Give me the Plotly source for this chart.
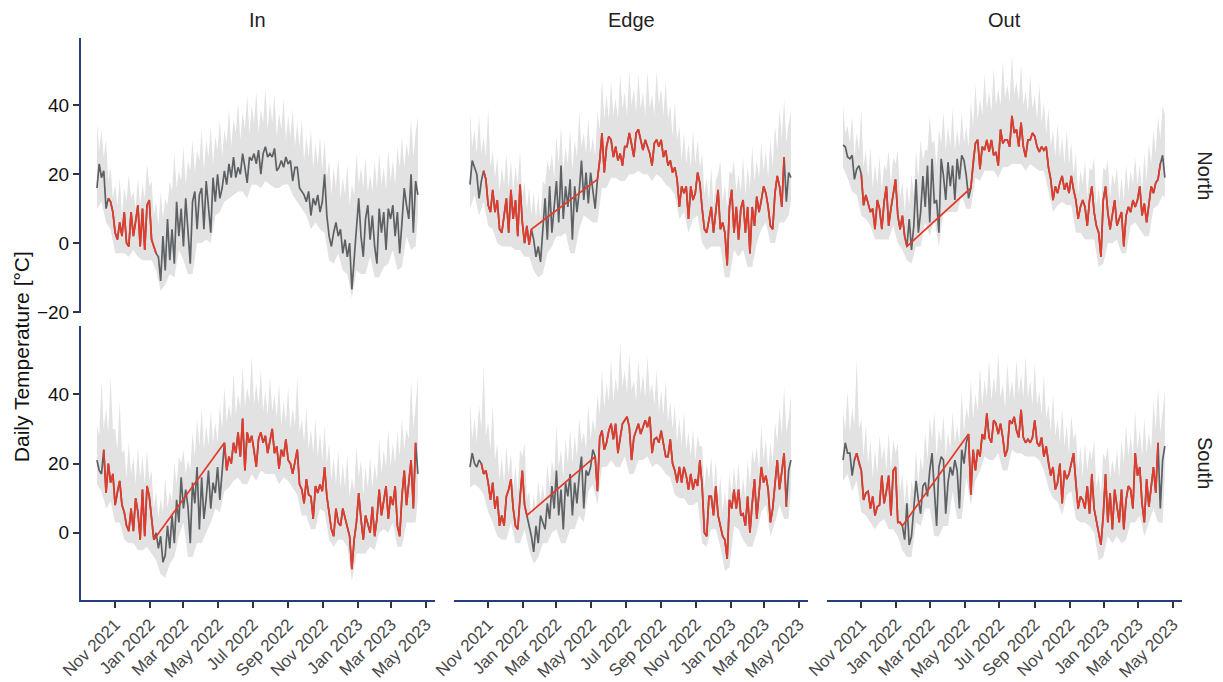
import pandas as pd
import plotly.graph_objects as go

# ---------------- data ----------------
START = "2021-09-30"
mean_dates = pd.date_range(START, periods=142, freq="4D")          # daily-mean samples
lo_dates = list(pd.date_range(START, periods=71, freq="8D")) + [mean_dates[-1]]

columns = ["In", "Edge", "Out"]
rows = ["North", "South"]
y_ticks = [-20, 0, 20, 40]

in_north_mean = [16, 23, 19, 21, 10, 13, 12, 9, 3, 1,
 6, 2, 9, 0, -1, 9, 2, 6, 11, -1,
 10, -2, 11, 12.5, 1, -1, -3, -4, -11, 2,
 -8, 7, -5, 4, -6, 12, 2, 10, -1, 13,
 3, -6, 12, 15, 4, 14, 16, 4, 18, 10,
 3, 19, 12, 20, 13, 16, 21, 17, 23, 19,
 25, 19, 22, 20, 26, 22, 17.5, 25, 24, 26,
 23, 27, 20, 26, 28, 25, 26, 25, 27.5, 21,
 22, 24, 22, 25, 23, 24, 18, 22, 22, 16,
 15, 14, 12, 15, 8, 13, 11, 14, 9, 12,
 20, 8, 2, -1, 3, 6, 2, 4, -3, 1,
 -4, 0, -13.5, -4, 5, 13, 2, -4, 7, 11,
 1, 8, -1, -6, 10, 3, 9, -2, 10, 7,
 11, 2, 9, -3, 6, 16, 11, 7, 20, 3,
 18, 14]
in_north_hi = [35, 27, 33, 25, 30, 18, 22, 13, 17, 11, 19, 8, 16, 12, 20, 13, 15, 10, 19, 11,
 17, 13, 23, 16.5, 18, 8, 12, 5, 15, 7, 13, 11, 18, 15, 26, 16, 21, 18, 28, 17,
 24, 21, 30, 20.5, 27, 24, 33, 21, 30, 25, 34, 23, 31, 27, 36, 25, 33, 29, 39, 28,
 36, 32, 41, 30, 38, 33, 43, 32, 40, 35, 44, 32, 39, 35, 45, 33, 41, 35, 43, 31,
 38, 33, 42, 30, 37, 31, 39, 28, 35, 28, 36, 24, 31, 25, 33, 22, 29, 23, 31, 21,
 30, 19, 24, 14, 22, 16, 25, 13, 19, 14, 23, 11, 17, 14, 26, 17, 22, 16, 25, 15,
 20, 15, 24, 16, 26, 17, 22, 15.5, 27, 18, 24, 17, 28, 22, 31, 22, 29, 25, 36, 25,
 32, 37]
in_north_lo = [10, 12, 6, 4, -3, -3, -3, -4, -2, -4,
 -5, -5, -5, -8, -14, -12, -9, -10, -2, -5,
 -9, -9, 0, 0, 1, 0, 8, 9, 12, 13,
 14, 15, 15, 13, 17, 17, 16, 18, 17, 16,
 16, 17, 17, 14, 12, 10, 8, 4, 6, 4,
 3, -5, -6, -3, -8, -9, -16, -8, -9, -9,
 -4, -10, -10, -7, -6, -2, -8, -7, 2, -2,
 -1, 8]
in_north_red = [("2021-10-20", "2022-01-12")]

in_south_mean = [21, 18, 17, 24, 11.5, 20, 14.5, 17, 8, 12,
 15, 8, 6, 2, 0.5, 7, 0.5, 10, 6, -2,
 12.5, -1, 13.5, 10.5, 3, -2, 0, -4.5, -1, -8.5,
 -6.5, 2, -4.5, 5, -3, 9.5, 3, 16, 7, 12.5,
 7.5, -3, 14.5, 8.5, 19, 1, 16, 4, 10, 18,
 7, 14.5, 11.5, 19, 9.5, 19, 26, 18, 22, 20,
 26, 23, 29, 22, 33, 18, 29, 26, 28, 24,
 19, 27, 29, 26, 28, 23, 27, 30, 23, 25,
 18.5, 24, 22, 27, 21, 20, 17, 21, 24, 14,
 12.5, 8.5, 15.5, 11, 10.5, 4, 13.5, 11.5, 14, 12,
 19, 10.5, 5, 1, -1, 7, 3, 2, 7, 4,
 2, -1, -10.5, -2, 3, 11.5, 4, -2, 5, 2,
 0, 7.5, -1, 4, 12.5, 5, 9, 13.5, 4, 10.5,
 8, 13.5, 2, -1, 10.5, 18, 8, 15.5, 21, 7,
 26, 17]
in_south_hi = [31, 28, 44, 30, 36, 29, 45, 30, 30, 24, 38, 23, 24, 16, 26, 17, 22, 14, 25, 16,
 22, 14, 24, 15, 18, 7, 12, 4, 10, 6, 16, 7, 12, 9, 20, 14, 22, 20, 24, 17,
 21, 18, 29, 22, 33, 25, 36, 24, 31, 25, 35, 26, 32, 26, 37, 30, 42, 32, 37, 33,
 46, 34, 40, 36, 48, 36, 42, 38, 51, 37, 43, 37, 47, 35, 41, 34, 45, 35, 40, 33,
 43, 31, 38, 32, 42, 30, 36, 31, 45, 29, 33, 26, 36, 24, 30, 23, 33, 22, 29, 21,
 31, 20, 26, 15, 22, 14, 24, 13, 20, 13, 23, 10, 16, 12, 25, 16, 21, 11, 19, 13,
 22, 13, 20, 15, 27, 17, 24, 19, 30, 19, 26, 20, 29, 22, 33, 24, 30, 27, 44, 30,
 37, 45]
in_south_lo = [14, 12, 7, 9, 3, 3, -2, -3, -3, -5,
 -5, -4, -6, -8, -12, -13, -9, -7, -1, 3,
 -7, -7, -3, -3, 0, 3, 7, 6, 12, 13,
 15, 16, 14, 14, 17, 15, 18, 17, 17, 17,
 14, 16, 15, 13, 11, 5, 5, 1, 1, 7,
 6, -2, -4, -2, -2, -4, -14, -6, -6, -6,
 -4, -5, 0, 1, 0, 3, -4, -4, 3, 3,
 3, 10]
in_south_red = [("2021-10-12", "2022-01-08"), ("2022-05-12", "2023-04-13")]

edge_north_mean = [17, 24, 22, 20, 13, 18, 21, 18.5, 11, 9,
 15.5, 9, 12.5, 4, 3, 8, 13, 3, 15.5, 7,
 12.5, 2, 17, 6, 0, 5, -0.5, 4, 1, -4,
 -1, -5.5, 3, 13, 1, 16.5, 3, 11.5, 18, 6,
 22.5, 7, 16.5, 10.5, 18.5, 1, 16.5, 9, 15, 24,
 12.5, 20.5, 11.5, 20.5, 15.5, 10, 18.5, 24, 32, 20.5,
 28, 31, 30, 25, 28, 24, 26, 22.5, 28, 28,
 32, 29, 25, 32, 33, 30, 27, 30, 28, 26,
 22.5, 29, 30, 28, 30, 25, 27, 22.5, 24, 20.5,
 22, 18.5, 10.5, 16.5, 14.5, 16.5, 7, 16.5, 12.5, 14.5,
 20.5, 17.5, 10, 4, 3, 7, 10.5, 3, 9, 15.5,
 4, 6, 3, -6.5, 10.5, 15.5, 3, 10.5, 1, 10,
 12.5, 3, 10.5, -3, 10.5, 5, 13.5, 9, 12.5, 16.5,
 14.5, 10.5, 5, 4, 14.5, 19.5, 16.5, 10.5, 25, 12,
 20.5, 19]
edge_north_hi = [38, 28, 33, 26, 37, 26, 31, 25, 39, 22, 27, 19, 25, 15, 22, 17, 26, 16, 24, 15,
 22, 17, 27, 13, 18, 10, 16, 8, 15, 7, 14, 7, 18, 17, 24, 21, 26, 19, 31, 23,
 34, 21, 28, 23, 33, 21, 30, 25, 38, 28, 32, 26, 36, 26, 31, 25, 38, 33, 48, 36,
 43, 36, 47, 37, 42, 36, 49, 39, 44, 37, 50, 40, 45, 38, 49, 39, 44, 37, 50, 39,
 43, 37, 50, 40, 45, 37, 47, 36, 40, 31, 41, 30, 34, 24, 32, 23, 29, 22, 33, 23,
 30, 22, 26, 14, 19, 12, 22, 11, 18, 20, 24, 12, 17, 10, 21, 20, 24, 15, 20, 15,
 25, 14, 22, 16, 28, 18, 24, 19, 29, 21, 27, 19, 30, 22, 34, 27, 39, 30, 42, 29,
 35, 38]
edge_north_lo = [10, 14, 8, 12, 5, 4, 0, -1, -1, -1,
 -2, -2, -4, -4, -8, -10, -9, -3, -1, 2,
 2, 3, -3, -3, 4, 8, 7, 6, 6, 16,
 16, 19, 19, 18, 18, 20, 20, 21, 20, 20,
 18, 20, 19, 17, 16, 14, 7, 9, 3, 7,
 8, 0, -2, -1, -1, -1, -10, -10, -2, -4,
 -2, -7, -7, 0, 4, 6, 0, 0, 6, 6,
 8, 12]
edge_north_red = [("2021-10-24", "2022-01-16"), ("2022-05-12", "2023-04-05")]

edge_south_mean = [19, 23, 20, 19, 21, 20, 17, 18, 14.5, 9.5,
 14.5, 7, 10.5, 2, 5, 2, 10.5, 12.5, 15.5, 7,
 2, 1, 10.5, 18, 8, 5, 3, -1, -5.5, 2,
 -3, 5, 3, 1, 8.5, 4, 13.5, 7, 18, 5,
 12.5, 1, 14.5, 10.5, 17, 5, 14.5, 8.5, 16.5, 22,
 7, 18, 16.5, 19, 24, 22, 12, 27.5, 29.5, 24,
 26, 29.5, 31.5, 27, 31.5, 23, 27.5, 31.5, 32.5, 33.5,
 30.5, 21, 27.5, 29.5, 31.5, 28.5, 30.5, 32.5, 30.5, 33.5,
 23, 27, 27.5, 26, 29.5, 26, 22, 22, 27, 20,
 18, 14.5, 19, 14.5, 19, 16.5, 12.5, 17, 12.5, 15.5,
 13.5, 21, 13.5, 0, -1, 10.5, 10.5, 5, 13.5, 5,
 2, -1, -2, -7.5, 9.5, 7, 12.5, 7, 12.5, 5,
 5.5, 2, 10.5, 0, 8.5, 15.5, 4, 10.5, 19, 14.5,
 16.5, 12.5, 3, 7, 14.5, 21, 12.5, 18, 23, 7.5,
 18, 21]
edge_south_hi = [38, 27, 33, 26, 37, 30, 48, 28, 32, 24, 37, 21, 26, 15, 22, 14, 25, 17, 23, 13,
 19, 12, 24, 22, 26, 10, 12, 4, 11, 6, 15, 9, 14, 8, 20, 13, 21, 17, 31, 19,
 24, 16, 27, 20, 30, 20, 28, 22, 33, 26, 29, 24, 37, 27, 33, 29, 40, 34, 47, 36,
 43, 38, 50, 38, 45, 40, 55, 42, 47, 40, 52, 41, 44, 38, 50, 40, 46, 39, 51, 40,
 43, 37, 47, 35, 41, 34, 44, 32, 38, 30, 37, 26, 33, 25, 35, 24, 29, 22, 30, 21,
 28, 25, 25, 13, 20, 15, 22, 12, 21, 10, 16, 6, 12, 7, 17, 11, 19, 12, 20, 10,
 16, 10, 21, 14, 24, 20, 25, 18, 31, 21, 27, 18, 26, 20, 32, 26, 36, 28, 42, 29,
 33, 40]
edge_south_lo = [13, 14, 13, 11, 6, 3, -1, -2, -2, 3,
 -3, -3, 1, -5, -9, -7, -3, -3, 0, 1,
 -3, -3, 1, 1, 5, 3, 12, 14, 8, 19,
 19, 21, 19, 19, 22, 17, 17, 21, 21, 22,
 19, 20, 19, 17, 16, 11, 10, 10, 8, 8,
 9, -3, -4, 1, 1, -4, -11, -10, 2, 1,
 -2, -4, -4, 0, 6, 8, -1, 3, 8, 4,
 4, 13]
edge_south_red = [("2021-10-20", "2022-01-08"), ("2022-05-08", "2023-04-09")]

out_north_mean = [28.5, 28, 25, 24.5, 25.5, 18.5, 21.5, 22.5, 20, 11,
 14, 11.5, 9, 10, 4, 12.5, 10, 4, 12, 16.5,
 5, 10, 14.5, 18.5, 8, 4, 8, 2, -1, 7,
 -2, 5, 18.5, 3, 9, 19.5, 10.5, 22.5, 6, 24.5,
 11.5, 12.5, 3, 24.5, 19.5, 12.5, 23.5, 16.5, 22.5, 12.5,
 24.5, 18.5, 25.5, 24, 19.5, 13, 16, 23.5, 29, 30,
 21.5, 28, 27, 30, 26.5, 30, 25.5, 26.5, 22.5, 33,
 29, 30, 30, 28, 37, 32, 33, 28, 35, 28,
 25, 30, 30, 32, 31, 28, 26.5, 28, 27, 28,
 22, 18.5, 12.5, 16.5, 14.5, 17.5, 19.5, 15.5, 17.5, 14.5,
 19.5, 15.5, 12.5, 7, 10.5, 12.5, 10.5, 5, 12.5, 16.5,
 9, 5, 3, -4, 12.5, 16.5, 9, 4, 9, 12.5,
 5, 7, 9, -1, 8, 10.5, 9, 12.5, 10.5, 12.5,
 16.5, 8, 11.5, 6, 10.5, 16.5, 14.5, 17.5, 18.5, 23,
 25.5, 19]
out_north_hi = [40, 32, 34, 29, 37, 25, 32, 27, 39, 22, 27, 19, 28, 16, 23, 17, 25, 15, 23, 21,
 27, 17, 25, 23, 27, 13, 18, 9, 17, 11, 20, 14, 27, 19, 30, 24, 27, 27, 37, 29,
 30, 22, 33, 29, 38, 27, 34, 28, 39, 27, 33, 28, 38, 29, 34, 28, 41, 34, 46, 36,
 42, 37, 49, 39, 44, 38, 51, 40, 45, 40, 53, 42, 46, 41, 55, 43, 47, 41, 52, 40,
 44, 38, 49, 39, 43, 36, 46, 35, 41, 32, 39, 28, 33, 25, 35, 25, 31, 23, 33, 23,
 29, 20, 26, 14, 21, 17, 24, 13, 22, 21, 25, 11, 16, 10, 22, 21, 24, 13, 20, 17,
 22, 12, 19, 12, 23, 15, 21, 17, 25, 17, 23, 15, 26, 18, 29, 23, 33, 26, 37, 30,
 40, 37]
out_north_lo = [22, 19, 15, 14, 8, 7, 5, 1, 1, 1,
 1, 5, 0, -2, -5, -6, -1, -1, 6, 2,
 7, -1, 9, 9, 9, 9, 14, 10, 10, 19,
 18, 21, 21, 21, 19, 22, 22, 23, 23, 23,
 21, 23, 22, 21, 21, 15, 9, 11, 12, 11,
 11, 3, 3, 1, 1, 1, -7, -6, 0, 0,
 1, -3, -3, 5, 6, 4, 2, 2, 10, 11,
 14, 13]
out_north_red = [("2021-11-01", "2022-01-20"), ("2022-05-12", "2023-04-09")]

out_south_mean = [21, 26, 23, 23, 16.5, 21, 23, 20, 18, 9.5,
 11.5, 12, 7, 10.5, 5, 7.5, 8, 16.5, 8.5, 12,
 16.5, 5, 18, 19, 3, 3, 2, -2, 8.5, -3.5,
 -1, 7, 15, 9.5, 5.5, 13.5, 14.5, 10.5, 18, 23,
 11.5, 2, 19, 22, 21, 5.5, 14.5, 19, 16.5, 21,
 18, 7, 24, 20, 26, 28.5, 11, 24, 18, 24,
 22, 28.5, 27, 34.5, 27.5, 26, 32.5, 31.5, 28.5, 31.5,
 27.5, 22, 24, 32.5, 31.5, 33.5, 29.5, 27.5, 35.5, 27.5,
 26, 27, 26, 27.5, 32.5, 26, 25, 27.5, 22, 25,
 20, 16.5, 19, 12.5, 14.5, 20, 8.5, 18, 15.5, 17,
 20, 23, 14.5, 7, 10.5, 9.5, 7, 13.5, 5.5, 17,
 7, 3, 0, -3.5, 5, 17, 3, 11.5, 1, 12.5,
 7, 3, 12.5, 1, 9.5, 13.5, 12.5, 7, 23, 16.5,
 19, 8.5, 3, 15.5, 7.5, 13.5, 19, 11.5, 26, 7,
 21, 25]
out_south_hi = [35, 30, 41, 29, 36, 31, 50, 30, 33, 22, 31, 20, 27, 16, 24, 17, 28, 21, 25, 18,
 29, 18, 27, 23, 26, 12, 17, 8, 16, 7, 15, 12, 24, 14, 22, 18, 29, 21, 33, 27,
 35, 22, 30, 26, 34, 22, 29, 24, 35, 26, 31, 26, 41, 29, 36, 33, 44, 33, 40, 35,
 48, 37, 44, 39, 50, 38, 45, 40, 52, 39, 43, 36, 49, 39, 44, 38, 50, 40, 46, 39,
 51, 39, 44, 37, 49, 37, 41, 34, 46, 33, 37, 29, 40, 28, 33, 26, 36, 25, 31, 23,
 34, 27, 29, 18, 25, 16, 26, 18, 24, 21, 27, 13, 17, 11, 23, 21, 25, 16, 21, 17,
 24, 16, 27, 20, 31, 22, 28, 22, 35, 24, 30, 22, 33, 23, 29, 24, 38, 30, 42, 29,
 35, 41]
out_south_lo = [15, 17, 12, 15, 6, 5, 3, 1, 3, 4,
 1, 1, -1, -5, -7, -7, 3, 2, 7, 7,
 -1, -1, 2, 2, 12, 4, 4, 16, 8, 15,
 18, 22, 21, 21, 23, 18, 18, 24, 23, 23,
 22, 22, 22, 21, 18, 13, 10, 9, 5, 11,
 12, 4, 3, 3, 2, 0, -8, -7, -1, -3,
 -1, -3, -2, 3, 3, 5, -1, 3, 7, 3,
 3, 17]
out_south_red = [("2021-10-20", "2022-01-12"), ("2022-05-08", "2023-04-05")]

# ---------------- styling ----------------
NAVY = "#283c82"
BAND = "#e2e2e2"
GREY = "#5d6164"
RED = "#e5392a"
FONT = "Liberation Sans, Arial, Helvetica, sans-serif"

col_domains = [[0.0, 0.3215], [0.3388, 0.6603], [0.6776, 1.0]]
row_domains = [[0.5112, 1.0], [0.0, 0.4875]]
y_ranges = [[-20.25, 59.6], [-19.4, 59.7]]
x_range = ["2021-09-02", "2023-05-17"]

panels = [
    (0, 0, in_north_mean, in_north_lo, in_north_hi, in_north_red),
    (0, 1, edge_north_mean, edge_north_lo, edge_north_hi, edge_north_red),
    (0, 2, out_north_mean, out_north_lo, out_north_hi, out_north_red),
    (1, 0, in_south_mean, in_south_lo, in_south_hi, in_south_red),
    (1, 1, edge_south_mean, edge_south_lo, edge_south_hi, edge_south_red),
    (1, 2, out_south_mean, out_south_lo, out_south_hi, out_south_red),
]

fig = go.Figure()
layout_axes = {}
for i, (r, c, mean, lo, hi, red) in enumerate(panels):
    n = i + 1
    xa = "x" if n == 1 else f"x{n}"
    ya = "y" if n == 1 else f"y{n}"
    # min-max band as a closed polygon
    fig.add_trace(go.Scatter(x=list(mean_dates) + lo_dates[::-1], y=list(hi) + list(lo)[::-1],
                             mode="lines", line=dict(width=0, color=BAND), fill="toself",
                             fillcolor=BAND, hoverinfo="skip", showlegend=False,
                             xaxis=xa, yaxis=ya))
    fig.add_trace(go.Scatter(x=mean_dates, y=mean, mode="lines",
                             line=dict(width=1.7, color=GREY), showlegend=False,
                             xaxis=xa, yaxis=ya))
    s = pd.Series(mean, index=mean_dates)
    mask = pd.Series(False, index=mean_dates)
    for a, b in red:
        mask |= (s.index >= pd.Timestamp(a)) & (s.index <= pd.Timestamp(b))
    rs = s[mask]
    fig.add_trace(go.Scatter(x=rs.index, y=rs.values, mode="lines",
                             line=dict(width=1.7, color=RED), showlegend=False,
                             xaxis=xa, yaxis=ya))

    bottom = r == 1
    left = c == 0
    layout_axes["xaxis" if n == 1 else f"xaxis{n}"] = dict(
        domain=col_domains[c], anchor=ya, type="date", range=x_range, automargin=False,
        showgrid=False, zeroline=False,
        showline=bottom, linecolor=NAVY, linewidth=2,
        ticks="outside" if bottom else "", ticklen=6, tickwidth=1.5, tickcolor="#333",
        showticklabels=bottom, dtick="M2", tick0="2021-11-01", tickformat="%b %Y",
        tickangle=-45, tickfont=dict(size=17, color="#484848", family=FONT),
    )
    layout_axes["yaxis" if n == 1 else f"yaxis{n}"] = dict(
        domain=row_domains[r], anchor=xa, range=y_ranges[r], automargin=False,
        showgrid=False, zeroline=False,
        showline=left, linecolor=NAVY, linewidth=2,
        ticks="outside" if left else "", ticklen=6, tickwidth=1.5, tickcolor="#333",
        showticklabels=left, tickvals=y_ticks,
        tickfont=dict(size=19, color="#111", family=FONT),
    )

annotations = []
for c, name in enumerate(columns):
    annotations.append(dict(text=name, xref="paper", yref="paper",
                            x=(col_domains[c][0] + col_domains[c][1]) / 2, y=1.0,
                            yshift=18, xanchor="center", yanchor="middle", showarrow=False,
                            font=dict(size=20, color="#222", family=FONT)))
for r, name in enumerate(rows):
    annotations.append(dict(text=name, xref="paper", yref="paper",
                            x=1.0, xshift=23, y=(row_domains[r][0] + row_domains[r][1]) / 2,
                            xanchor="center", yanchor="middle", textangle=90, showarrow=False,
                            font=dict(size=20, color="#222", family=FONT)))
annotations.append(dict(text="Daily Temperature [°C]", xref="paper", yref="paper",
                        x=0.0, xshift=-60, y=0.432, xanchor="center", yanchor="middle",
                        textangle=-90, showarrow=False,
                        font=dict(size=21, color="#111", family=FONT)))

# the page adds an 8px body margin, so the figure is drawn offset by 8px
fig.update_layout(
    width=1215, height=682,
    margin=dict(l=73, r=41, t=30, b=90, autoexpand=False),
    paper_bgcolor="white", plot_bgcolor="white",
    font=dict(family=FONT),
    annotations=annotations,
    showlegend=False,
    hovermode=False,
    **layout_axes,
)

fig.write_html("out.html")
